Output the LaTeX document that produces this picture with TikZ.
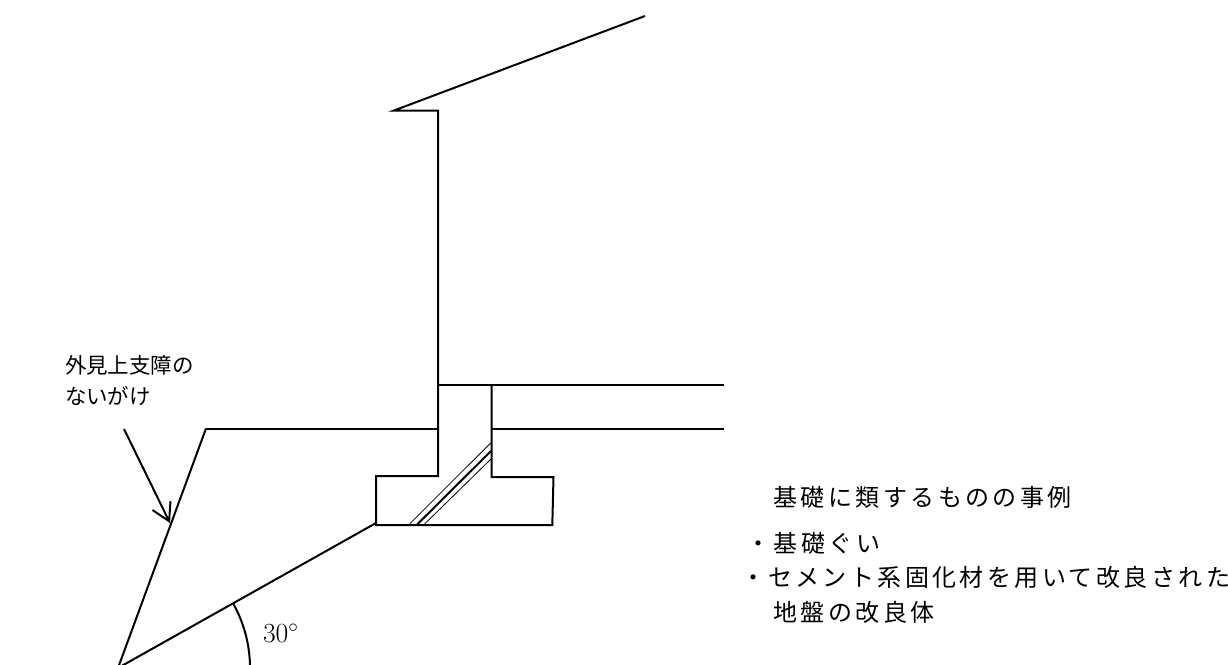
\documentclass[tikz,border=0pt]{standalone}
\usepackage{fontspec}
\usepackage{tikz}
\usetikzlibrary{arrows.meta}
\newfontfamily\jpfont{Noto Sans CJK JP}
\newfontfamily\jpwide[LetterSpace=14.3]{Noto Sans CJK JP}
\tikzset{every picture/.style={line width=1.5pt}}
\tikzset{
  thinhatch/.style={line width=0.6pt},
  leftlabel/.style={anchor=west,inner sep=0pt,font=\fontsize{16.1}{16.1}\selectfont\jpfont},
  rightlabel/.style={anchor=west,inner sep=0pt,font=\fontsize{18}{18}\selectfont\jpwide},
  barbtip/.style={-{Straight Barb[length=13pt,width=15pt,line width=1.5pt]}}
}

\begin{document}
\begin{tikzpicture}[x=0.75pt,y=0.75pt,yscale=-1,line join=miter]
\useasboundingbox (0,0) rectangle (1228,664);

%Shape: Polygon, roof and wall down to the footing
\draw (645,16) -- (394,110.5) -- (438,110.5) -- (438,476) -- (376,476) -- (376,525) -- (552.3,525) -- (553.5,477) -- (491.5,477) -- (491.5,385) ;
%Straight Lines, floor
\draw (438,385) -- (724,385) ;
%Straight Lines, ground
\draw (206,428.5) -- (438,428.5) ;
\draw (491.5,428.5) -- (724,428.5) ;
%Straight Lines, slope
\draw (206,428.5) -- (118,668) ;
\draw (376,523) -- (118,668) ;
%Arc, angle
\draw (118,668) ++(-29.4:132) arc (-29.4:0:132) ;
%Straight Lines, hatching
\draw [thinhatch] (409.3,524.3) -- (491,442.7) ;
\draw (417.3,524.3) -- (491,451) ;
\draw [thinhatch] (424.3,524.3) -- (491,459) ;
%Straight Lines, pointer
\coordinate (pointerstart) at (124,429) ;
\coordinate (pointertip) at (170,523) ;
\draw [barbtip] (pointerstart) -- (pointertip) ;

\node [leftlabel] (cliffa) at (64,365) {外見上支障の};
\node [leftlabel] (cliffb) at (64,396) {ないがけ};
\node [anchor=west,inner sep=0pt,font=\fontsize{20.5}{20.5}\selectfont] (angle) at (262,633) {$30^\circ$};
\node [rightlabel] (casehead) at (772.5,497) {基礎に類するものの事例};
\node [rightlabel] (caseone) at (745.5,543) {・基礎ぐい};
\node [rightlabel] (casetwo) at (740,577) {・セメント系固化材を用いて改良された};
\node [rightlabel] (casethree) at (772.5,612) {地盤の改良体};
\end{tikzpicture}
\end{document}
